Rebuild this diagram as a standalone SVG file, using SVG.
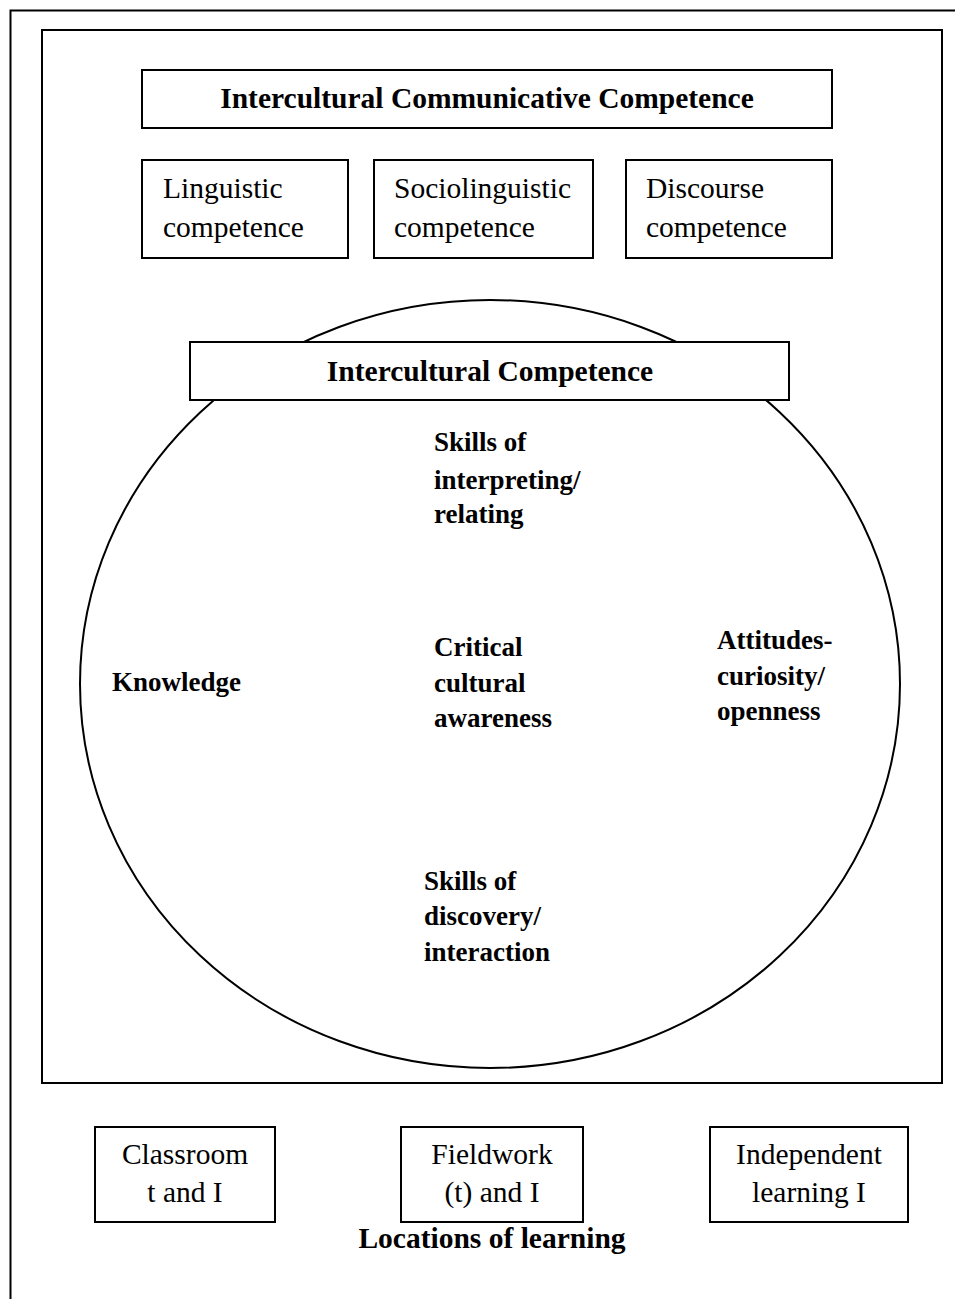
<svg xmlns="http://www.w3.org/2000/svg" width="955" height="1299" viewBox="0 0 955 1299">
<style>
.b{fill:#fff;stroke:#000;stroke-width:2}
.ln{fill:none;stroke:#000;stroke-width:2}
text{font-family:"Liberation Serif","Times New Roman",serif;fill:#000}
.h{font-size:29.5px;font-weight:bold}
.n{font-size:29.5px}
.s{font-size:27px;font-weight:bold}
.c{text-anchor:middle}
</style>
<rect x="0" y="0" width="955" height="1299" fill="#fff"/>
<g id="outer"><path class="ln" d="M10.5 1299 V10.5 H955"/></g>
<g id="inner"><rect class="b" x="42" y="30" width="900" height="1053"/></g>
<g id="icc"><rect class="b" x="142" y="70" width="690" height="58"/><text class="h c" x="487" y="108">Intercultural Communicative Competence</text></g>
<g id="linguistic"><rect class="b" x="142" y="160" width="206" height="98"/><text class="n" x="163" y="198">Linguistic</text><text class="n" x="163" y="237">competence</text></g>
<g id="sociolinguistic"><rect class="b" x="374" y="160" width="219" height="98"/><text class="n" x="394" y="198">Sociolinguistic</text><text class="n" x="394" y="237">competence</text></g>
<g id="discourse"><rect class="b" x="626" y="160" width="206" height="98"/><text class="n" x="646" y="198">Discourse</text><text class="n" x="646" y="237">competence</text></g>
<g id="circle"><ellipse class="b" cx="490" cy="684" rx="410" ry="384"/></g>
<g id="ic"><rect class="b" x="190" y="342" width="599" height="58"/><text class="h c" x="490" y="381">Intercultural Competence</text></g>
<g id="interpreting"><text class="s" x="434" y="451">Skills of</text><text class="s" x="434" y="489">interpreting/</text><text class="s" x="434" y="523">relating</text></g>
<g id="knowledge"><text class="s" x="112" y="691">Knowledge</text></g>
<g id="awareness"><text class="s" x="434" y="656">Critical</text><text class="s" x="434" y="692">cultural</text><text class="s" x="434" y="727">awareness</text></g>
<g id="attitudes"><text class="s" x="717" y="649">Attitudes-</text><text class="s" x="717" y="685">curiosity/</text><text class="s" x="717" y="720">openness</text></g>
<g id="discovery"><text class="s" x="424" y="890">Skills of</text><text class="s" x="424" y="925">discovery/</text><text class="s" x="424" y="961">interaction</text></g>
<g id="classroom"><rect class="b" x="95" y="1127" width="180" height="95"/><text class="n c" x="185" y="1164">Classroom</text><text class="n c" x="185" y="1202">t and I</text></g>
<g id="fieldwork"><rect class="b" x="401" y="1127" width="182" height="95"/><text class="n c" x="492" y="1164">Fieldwork</text><text class="n c" x="492" y="1202">(t) and I</text></g>
<g id="independent"><rect class="b" x="710" y="1127" width="198" height="95"/><text class="n c" x="809" y="1164">Independent</text><text class="n c" x="809" y="1202">learning I</text></g>
<g id="locations"><text class="h c" x="492" y="1248">Locations of learning</text></g>
<g id="connectors"></g>
</svg>
